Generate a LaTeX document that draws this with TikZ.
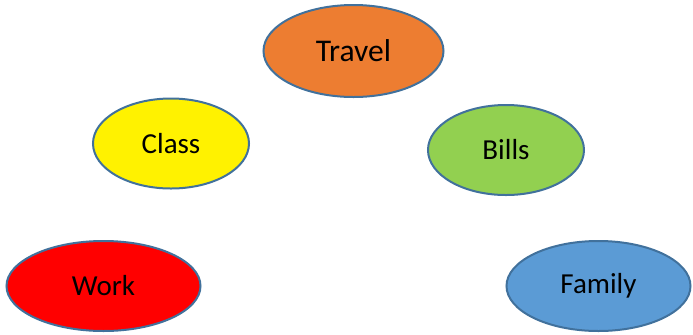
\documentclass[tikz,border=0pt]{standalone}
\usepackage{fontspec}
\setmainfont{Carlito}
\usetikzlibrary{shapes.geometric}

\definecolor{rimblue}{HTML}{41719C}
\definecolor{travelorange}{HTML}{ED7D31}
\definecolor{billsgreen}{HTML}{92D050}
\definecolor{familyblue}{HTML}{5B9BD5}

\tikzset{
  bubble/.style={ellipse, draw=rimblue, line width=1pt, inner sep=0pt,
    font=\fontsize{14.5}{17}\selectfont}
}

\begin{document}
\begin{tikzpicture}[x=0.5pt,y=-0.5pt]

\useasboundingbox (0,0) rectangle (693,334);

\node[bubble, fill=travelorange, minimum width=90pt, minimum height=46pt,
  font=\fontsize{15.8}{18}\selectfont] (travel) at (353.5,51) {Travel};
\node[bubble, fill=yellow, minimum width=78pt, minimum height=45pt] (class) at (171,143.5) {Class};
\node[bubble, fill=billsgreen, minimum width=78pt, minimum height=45pt] (bills) at (506,150) {Bills};

\node[bubble, fill=red, minimum width=97pt, minimum height=45pt] (work) at (103.5,286) {Work};
\node[bubble, fill=familyblue, minimum width=92pt, minimum height=45pt] (family) at (598.5,286) {Family};

\end{tikzpicture}
\end{document}
